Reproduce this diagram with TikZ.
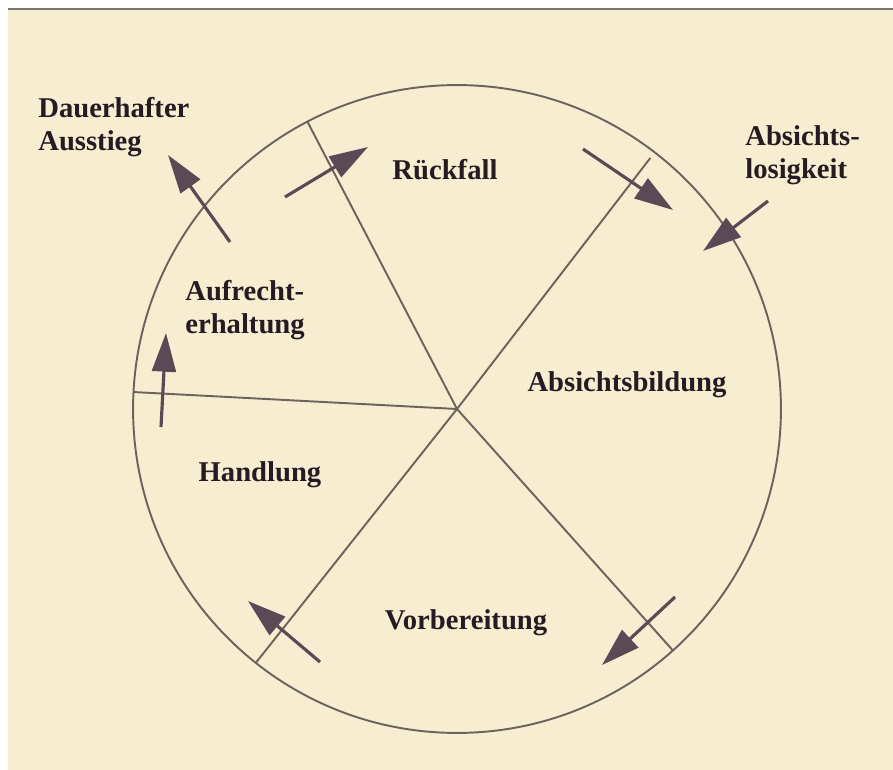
\documentclass[tikz,border=0pt]{standalone}
\usepackage{fontspec}
\setmainfont{Liberation Serif}
\usetikzlibrary{arrows.meta}
\definecolor{paper}{RGB}{247,238,210}
\definecolor{rim}{RGB}{120,114,104}
\definecolor{linec}{RGB}{108,100,92}
\definecolor{arrowc}{RGB}{90,74,86}
\definecolor{textc}{RGB}{36,28,34}
\tikzset{
  sector/.style={draw=linec, line width=1.1pt},
  flow/.style={draw=arrowc, line width=1.8pt, -{Triangle[length=22pt,width=13.5pt]}},
  label/.style={font=\bfseries\fontsize{16.3pt}{18.8pt}\selectfont, text=textc, inner sep=0pt},
  twoline/.style={label, align=left, anchor=west}
}
\begin{document}
\begin{tikzpicture}[x=0.02cm,y=-0.02cm]
\useasboundingbox (0,0) rectangle (893,770);
\fill[white] (0,0) rectangle (893,770);
\fill[paper] (8,9) rectangle (893,770);
\draw[rim, line width=1.4pt] (8,9) -- (893,9);

\coordinate (O) at (457,409);
\draw[sector] (O) circle[radius=6.48cm];
\path (O) ++(177:6.48cm) coordinate (pL)
      (O) ++(117.5:6.48cm) coordinate (pUL)
      (O) ++(52.4:6.34cm) coordinate (pUR)
      (O) ++(-48.2:6.48cm) coordinate (pLR)
      (O) ++(-128.4:6.48cm) coordinate (pLL);
\draw[sector] (O) -- (pL);
\draw[sector] (O) -- (pUL);
\draw[sector] (O) -- (pUR);
\draw[sector] (O) -- (pLR);
\draw[sector] (O) -- (pLL);

% labels
\node[twoline] (ausstieg) at (38,127) {Dauerhafter\\Ausstieg};
\node[label] (rueckfall) at (445,170) {Rückfall};
\node[twoline] (absichtslos) at (745,155) {Absichts-\\losigkeit};
\node[twoline] (aufrecht) at (185,310) {Aufrecht-\\erhaltung};
\node[label] (bildung) at (627,385) {Absichtsbildung};
\node[label] (handlung) at (260,475) {Handlung};
\node[label] (vorbereitung) at (466,623) {Vorbereitung};

% arrow end points
\coordinate (a1s) at (230,242); \coordinate (a1e) at (168,155);
\coordinate (a2s) at (285,197); \coordinate (a2e) at (368,147);
\coordinate (a3s) at (583,149); \coordinate (a3e) at (673,210);
\coordinate (a4s) at (768,201); \coordinate (a4e) at (703,251);
\coordinate (a5s) at (675,597); \coordinate (a5e) at (602,665);
\coordinate (a6s) at (320,662); \coordinate (a6e) at (248,601);
\coordinate (a7s) at (161,427); \coordinate (a7e) at (166,333);
\draw[flow] (a1s) -- (a1e);
\draw[flow] (a2s) -- (a2e);
\draw[flow] (a3s) -- (a3e);
\draw[flow] (a4s) -- (a4e);
\draw[flow] (a5s) -- (a5e);
\draw[flow] (a6s) -- (a6e);
\draw[flow] (a7s) -- (a7e);
\end{tikzpicture}
\end{document}
